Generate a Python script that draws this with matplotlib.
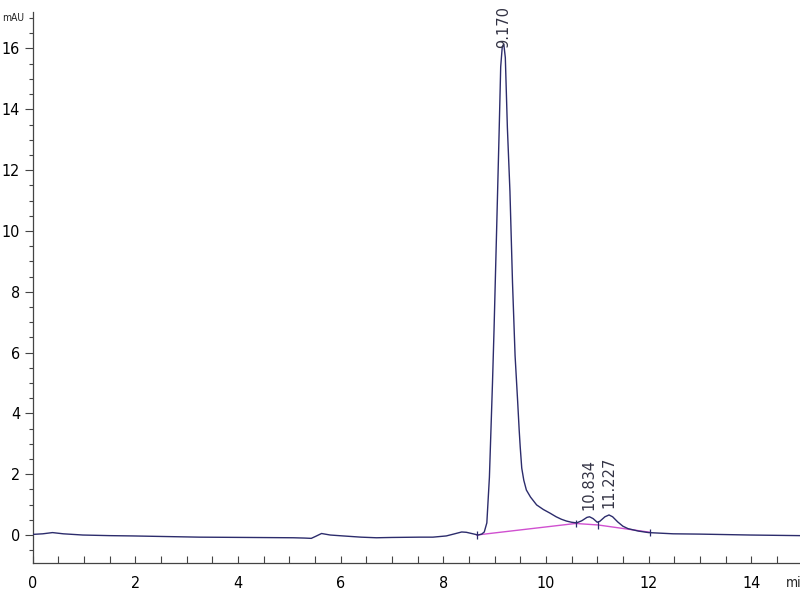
import numpy as np
import matplotlib
matplotlib.use("Agg")
import matplotlib.pyplot as plt
from matplotlib.ticker import MultipleLocator

plt.rcParams['font.family'] = ['DejaVu Sans']
plt.rcParams['font.stretch'] = 'condensed'

# chromatogram trace (min, mAU)
time = [0.0, 0.2, 0.39, 0.6, 0.98, 1.5, 1.95, 2.6, 3.25, 4.2, 5.08, 5.3, 5.43,
        5.52, 5.63, 5.8, 6.05, 6.4, 6.7, 7.0, 7.54, 7.8, 8.06, 8.2, 8.36, 8.45,
        8.58, 8.68, 8.75, 8.80, 8.85, 8.90, 8.93, 8.96, 8.99, 9.04, 9.09, 9.12,
        9.15, 9.18, 9.21, 9.25, 9.30, 9.35, 9.40, 9.45, 9.48, 9.50, 9.53, 9.57,
        9.62, 9.70, 9.82, 9.95, 10.08, 10.2, 10.3, 10.4, 10.5, 10.6, 10.7,
        10.8, 10.85, 10.92, 11.0, 11.05, 11.15, 11.23, 11.3, 11.4, 11.5, 11.6,
        11.8, 12.0, 12.48, 13.0, 13.33, 13.98, 14.95]
signal = [0.02, 0.04, 0.08, 0.04, 0.0, -0.02, -0.03, -0.05, -0.07, -0.08, -0.09,
          -0.1, -0.11, -0.04, 0.05, 0.0, -0.03, -0.07, -0.09, -0.08, -0.07, -0.07,
          -0.03, 0.03, 0.10, 0.09, 0.04, 0.0, 0.03, 0.10, 0.4, 1.9, 3.45, 5.0,
          6.74, 10.0, 13.3, 15.4, 16.05, 16.15, 15.7, 13.4, 11.3, 8.3, 5.9, 4.4,
          3.45, 2.9, 2.2, 1.8, 1.48, 1.25, 0.99, 0.84, 0.72, 0.60, 0.52, 0.46,
          0.42, 0.40, 0.47, 0.58, 0.60, 0.54, 0.42, 0.45, 0.60, 0.66, 0.60, 0.43,
          0.29, 0.21, 0.13, 0.08, 0.04, 0.03, 0.02, 0.0, -0.02]

# integration baselines
base_main_t = [8.65, 10.58]
base_main_y = [0.0, 0.38]
base_small_t = [10.58, 11.02, 12.03]
base_small_y = [0.38, 0.33, 0.09]
mark_t = [8.65, 10.58, 11.02, 12.03]
mark_y = [0.0, 0.38, 0.33, 0.09]

peak_t = [9.17, 10.834, 11.227]
label_y = [16.02, 0.82, 0.89]
peak_lbl = ["9.170", "10.834", "11.227"]

fig = plt.figure(figsize=(8, 6), dpi=100)
ax = fig.add_axes([32.5/800, 37/600, 1 - 32.5/800, (563-12)/600])

ax.plot(time, signal, color='#2c2c6c', lw=1.0, zorder=3)
ax.plot(base_main_t, base_main_y, color='#d050d0', lw=1.0, zorder=2)
ax.plot(base_small_t, base_small_y, color='#d050d0', lw=1.0, zorder=2)
ax.vlines(mark_t, np.array(mark_y) - 0.12, np.array(mark_y) + 0.12,
          color='#2c2c6c', lw=0.9, zorder=4)

for t, y, s in zip(peak_t, label_y, peak_lbl):
    ax.text(t, y, s, rotation=90, ha='center', va='bottom',
            fontsize=10.5, color='#333344', fontstretch='normal')

ax.set_xlim(0, 14.95)
ax.set_ylim(-0.92, 17.2)

ax.spines['top'].set_visible(False)
ax.spines['right'].set_visible(False)
for s in ['left', 'bottom']:
    ax.spines[s].set_color('#444444')
    ax.spines[s].set_linewidth(0.9)

ax.xaxis.set_major_locator(MultipleLocator(2))
ax.xaxis.set_minor_locator(MultipleLocator(0.5))
ax.yaxis.set_major_locator(MultipleLocator(2))
ax.yaxis.set_minor_locator(MultipleLocator(0.5))

ax.tick_params(axis='x', which='both', direction='in', length=5, width=0.8,
               color='#444444', pad=9, labelsize=11.5)
ax.tick_params(axis='y', which='major', direction='out', length=6, width=0.8,
               color='#444444', pad=3, labelsize=11.5)
ax.tick_params(axis='y', which='minor', direction='out', length=3, width=0.8,
               color='#444444')

fig.text(2/800, 1 - 18/600, "mAU", fontsize=7.5, va='center', ha='left',
         color='#222222')
fig.text(786/800, 1 - 583/600, "min", fontsize=10, va='center', ha='left',
         color='#222222')

fig.savefig("out.png", dpi=100)
